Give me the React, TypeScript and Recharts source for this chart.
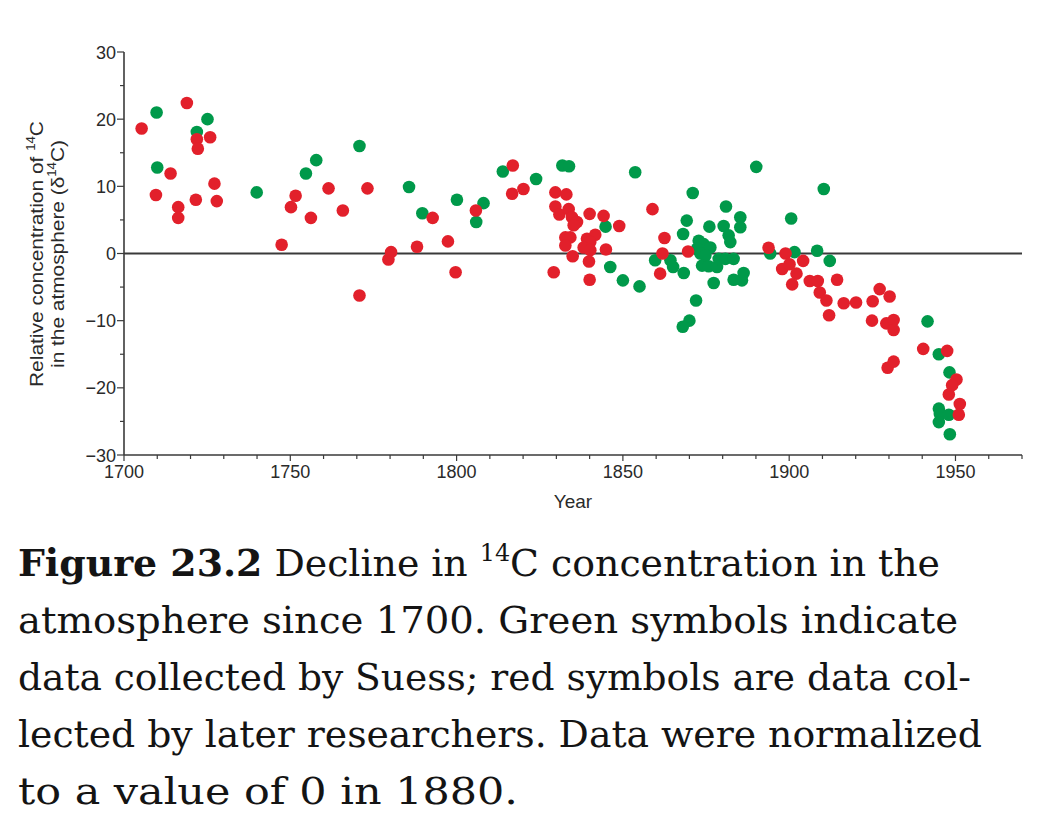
import React from 'react';
import { ScatterChart, Scatter, XAxis, YAxis, ReferenceLine } from 'recharts';

// [year, delta14C]
const suessPoints: [number, number][] = [
  [1709.8, 21.0], [1710.0, 12.8], [1721.9, 18.1], [1725.1, 20.0], [1739.9, 9.1],
  [1754.7, 11.9], [1757.8, 13.9], [1770.8, 16.0], [1785.7, 9.9], [1789.7, 6.0],
  [1800.1, 8.0], [1805.9, 4.7], [1808.1, 7.5], [1813.9, 12.2], [1823.9, 11.1],
  [1831.8, 13.1], [1833.8, 13.0], [1844.8, 4.0], [1846.2, -2.0], [1850.0, -4.0],
  [1853.7, 12.1], [1855.0, -4.9], [1859.7, -1.0], [1864.3, -1.0], [1865.1, -2.0],
  [1868.1, 2.9], [1868.3, -2.9], [1869.2, 4.9], [1870.0, -10.0], [1868.0, -10.9],
  [1871.0, 9.0], [1872.0, -7.0], [1872.8, 1.9], [1874.3, 1.4], [1872.3, 0.7],
  [1875.3, 0.7], [1876.3, 0.9], [1873.3, 0.0], [1874.8, -0.3], [1873.8, -1.8],
  [1875.8, -1.9], [1876.0, 4.0], [1877.3, -4.4], [1878.3, -2.0], [1878.8, -0.8],
  [1880.8, -0.8], [1880.3, 4.1], [1881.0, 7.0], [1881.8, 2.7], [1882.3, 1.7],
  [1883.3, -0.8], [1883.3, -3.9], [1885.3, 5.4], [1885.3, 3.9], [1885.8, -4.0],
  [1886.3, -2.9], [1890.1, 12.9], [1894.3, 0.0], [1900.6, 5.2], [1901.6, 0.2],
  [1908.4, 0.4], [1910.4, 9.6], [1912.2, -1.1], [1941.6, -10.1], [1945.0, -15.0],
  [1948.2, -17.7], [1945.0, -23.1], [1945.3, -23.9], [1945.0, -25.1], [1948.0, -24.0],
  [1948.3, -26.9],
];

const laterPoints: [number, number][] = [
  [1705.3, 18.6], [1718.9, 22.4], [1714.0, 11.9], [1709.6, 8.7], [1716.3, 6.9],
  [1716.3, 5.3], [1721.9, 17.0], [1722.2, 15.6], [1725.9, 17.3], [1727.2, 10.4],
  [1721.6, 8.0], [1727.9, 7.8], [1747.4, 1.3], [1750.2, 6.9], [1751.6, 8.6],
  [1756.2, 5.3], [1761.5, 9.7], [1765.8, 6.4], [1773.2, 9.7], [1770.8, -6.25],
  [1779.5, -0.9], [1780.3, 0.2], [1788.1, 1.0], [1792.8, 5.3], [1797.4, 1.8],
  [1799.7, -2.8], [1805.8, 6.4], [1816.9, 13.1], [1816.7, 8.9], [1820.1, 9.6],
  [1829.7, 9.1], [1833.0, 8.8], [1829.7, 7.0], [1830.9, 5.8], [1833.7, 6.6],
  [1834.7, 5.4], [1836.2, 4.7], [1835.2, 4.2], [1840.0, 5.9], [1844.2, 5.6],
  [1848.9, 4.1], [1832.7, 2.4], [1834.2, 2.4], [1832.7, 1.2], [1839.2, 2.2],
  [1841.7, 2.8], [1840.2, 1.7], [1838.2, 0.9], [1840.2, 0.5], [1844.9, 0.6],
  [1834.9, -0.4], [1839.8, -1.2], [1829.2, -2.8], [1840.0, -3.9], [1858.9, 6.6],
  [1862.5, 2.3], [1861.9, 0.0], [1861.2, -3.0], [1869.6, 0.3], [1893.8, 0.85],
  [1898.9, 0.0], [1897.9, -2.3], [1900.1, -1.6], [1902.2, -3.0], [1900.9, -4.6],
  [1904.2, -1.1], [1906.2, -4.1], [1908.6, -4.1], [1909.2, -5.8], [1911.2, -7.0],
  [1912.0, -9.2], [1914.4, -3.9], [1916.4, -7.4], [1920.1, -7.3], [1925.1, -7.1],
  [1927.2, -5.3], [1930.2, -6.4], [1924.9, -10.0], [1929.2, -10.4], [1931.4, -9.9],
  [1931.4, -11.4], [1929.6, -17.0], [1931.4, -16.1], [1940.3, -14.2], [1947.5, -14.5],
  [1950.3, -18.75], [1949.0, -19.6], [1948.0, -21.0], [1951.3, -22.4], [1951.0, -24.0],
];

const xTicks = [1700, 1710, 1720, 1730, 1740, 1750, 1760, 1770, 1780, 1790, 1800, 1810, 1820, 1830,
  1840, 1850, 1860, 1870, 1880, 1890, 1900, 1910, 1920, 1930, 1940, 1950, 1960, 1970];
const yTicks = [-30, -25, -20, -15, -10, -5, 0, 5, 10, 15, 20, 25, 30];

const GREEN = '#00994a';
const RED = '#e2202b';
const AXIS = '#3a3a3a';
const TEXT = '#2a2a2a';
const SANS = '"Liberation Sans", Arial, sans-serif';
const SERIF = '"DejaVu Serif Condensed", "DejaVu Serif", "Liberation Serif", serif';

const suess = suessPoints.map(([year, value]) => ({ year, value }));
const later = laterPoints.map(([year, value]) => ({ year, value }));

function XTick(props: any) {
  const { x, y, payload } = props;
  const major = payload.value % 50 === 0;
  return (
    <g>
      <line x1={x} x2={x} y1={y} y2={y + (major ? 6 : 4)} stroke={AXIS} strokeWidth={1.2} />
      {major && (
        <text x={x} y={y + 23} textAnchor="middle" fontSize={18} fill={TEXT} fontFamily={SANS}>
          {payload.value}
        </text>
      )}
    </g>
  );
}

function YTick(props: any) {
  const { x, y, payload } = props;
  const v = payload.value;
  const major = v % 10 === 0;
  return (
    <g>
      <line x1={x} x2={x - (major ? 7 : 4)} y1={y} y2={y} stroke={AXIS} strokeWidth={1.2} />
      {major && (
        <text x={x - 8} y={y + 6.5} textAnchor="end" fontSize={18} fill={TEXT} fontFamily={SANS}>
          {v < 0 ? '\u2212' + Math.abs(v) : v}
        </text>
      )}
    </g>
  );
}

const YLabel = () => (
  <g fontFamily={SANS} fontSize={19} fill={TEXT}>
    <text x={43} y={254} transform="rotate(-90, 43, 254)" textAnchor="middle" textLength={266} lengthAdjust="spacingAndGlyphs">
      Relative concentration of <tspan fontSize={12} dy={-8}>14</tspan>
      <tspan dy={8}>C</tspan>
    </text>
    <text x={64} y={254} transform="rotate(-90, 64, 254)" textAnchor="middle" textLength={228} lengthAdjust="spacingAndGlyphs">
      in the atmosphere (δ<tspan fontSize={12} dy={-8}>14</tspan>
      <tspan dy={8}>C)</tspan>
    </text>
  </g>
);

const XLabel = (props: any) => {
  const vb = props.viewBox || {};
  const cx = vb.x != null ? vb.x + vb.width / 2 : 573;
  return (
    <text x={cx} y={508} textAnchor="middle" fontSize={19} fill={TEXT} fontFamily={SANS}>
      Year
    </text>
  );
};

const dot = (color: string) => (p: any) => <circle cx={p.cx} cy={p.cy} r={6.3} fill={color} />;

export default function App() {
  return (
    <div style={{ position: 'absolute', left: 0, top: 0, width: 1038, height: 828, background: '#fff' }}>
      <ScatterChart width={1038} height={520} margin={{ top: 52, right: 16, bottom: 0, left: 0 }}>
        <XAxis
          type="number"
          dataKey="year"
          domain={[1700, 1970]}
          ticks={xTicks}
          interval={0}
          tickSize={0}
          tickMargin={0}
          tickLine={false}
          tick={XTick}
          height={65}
          axisLine={{ stroke: AXIS, strokeWidth: 1.6 }}
          allowDataOverflow
          label={{ content: XLabel }}
        />
        <YAxis
          type="number"
          dataKey="value"
          domain={[-30, 30]}
          ticks={yTicks}
          interval={0}
          tickSize={0}
          tickMargin={0}
          tickLine={false}
          tick={YTick}
          width={124}
          axisLine={{ stroke: AXIS, strokeWidth: 1.6 }}
          allowDataOverflow
          label={{ content: YLabel }}
        />
        <ReferenceLine y={0} stroke={AXIS} strokeWidth={1.8} />
        <Scatter data={suess} fill={GREEN} shape={dot(GREEN)} isAnimationActive={false} />
        <Scatter data={later} fill={RED} shape={dot(RED)} isAnimationActive={false} />
      </ScatterChart>

      <svg width={1038} height={308} style={{ position: 'absolute', left: 0, top: 520 }}>
        <g fontFamily={SERIF} fontSize={38} fill="#141414">
          <text x={18} y={56} textLength={922} lengthAdjust="spacingAndGlyphs">
            <tspan fontWeight="bold">{'Figure 23.2'}</tspan>
            {' Decline in '}
            <tspan fontSize={24} dy={-15}>{'14'}</tspan>
            <tspan dy={15}>{'C concentration in the'}</tspan>
          </text>
          <text x={18} y={113} textLength={940} lengthAdjust="spacingAndGlyphs">
            {'atmosphere since 1700. Green symbols indicate'}
          </text>
          <text x={18} y={170} textLength={953} lengthAdjust="spacingAndGlyphs">
            {'data collected by Suess; red symbols are data col-'}
          </text>
          <text x={18} y={227} textLength={964} lengthAdjust="spacingAndGlyphs">
            {'lected by later researchers. Data were normalized'}
          </text>
          <text x={18} y={284} textLength={500} lengthAdjust="spacingAndGlyphs">
            {'to a value of 0 in 1880.'}
          </text>
        </g>
      </svg>
    </div>
  );
}
